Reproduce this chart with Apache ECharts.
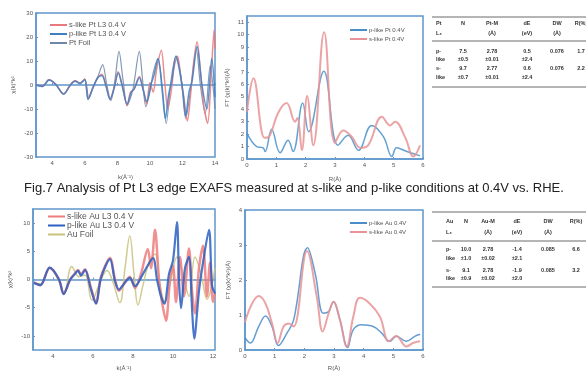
<!DOCTYPE html>
<html>
<head>
<meta charset="utf-8">
<script src="https://cdn.jsdelivr.net/npm/echarts@6/dist/echarts.min.js"></script>
<style>
  html, body { margin: 0; padding: 0; background: #fff; }
  #chart { width: 586px; height: 372px; }
</style>
</head>
<body>
<div id="chart"></div>
<script>
// Pt L3 chi(k)*k^2, pairs of [k, value]
var ptSlike = [[3.0,0],[3.4,-0.5],[3.8,2.2],[4.2,0.4],[4.7,-3.7],[5.1,0],[5.4,1.8],[5.7,0.8],[6.0,2.5],[6.2,-5.8],[6.5,-1],[6.8,3.2],[7.05,4.5],[7.3,0],[7.55,-5.8],[7.8,-1],[8.05,5.5],[8.3,0],[8.6,-8.6],[8.8,-3],[9.0,-2],[9.35,3.5],[9.6,-2],[9.8,-8],[10.0,1],[10.2,-3],[10.4,6],[10.7,14.5],[10.9,2],[11.1,-10],[11.3,-3],[11.5,8],[11.7,12],[11.9,3],[12.1,-6],[12.3,-15],[12.5,-4],[12.7,10],[12.9,18],[13.1,6],[13.3,-8],[13.55,-16],[13.75,2],[13.95,23],[14.0,15]];
var ptPlike = [[3.0,0],[3.4,-0.6],[3.8,2.1],[4.2,0.3],[4.7,-3.8],[5.1,-0.2],[5.4,1.6],[5.7,0.6],[6.0,2.2],[6.2,-6],[6.5,-1.2],[6.8,3],[7.05,4],[7.3,-0.5],[7.55,-6],[7.8,-1.5],[8.05,5],[8.3,-0.5],[8.6,-8],[8.85,-3],[9.05,-1.5],[9.35,3],[9.6,-2.5],[9.8,-7],[10.05,0],[10.25,4],[10.5,11],[10.75,-2],[10.95,-14],[11.15,-4],[11.35,2],[11.6,12],[11.85,5],[12.05,-4],[12.2,-13],[12.4,-3],[12.6,2],[12.9,16],[13.2,0],[13.5,-10],[13.8,11],[14.0,-5]];
var ptFoil = [[3.0,0],[3.4,-0.5],[3.8,2.2],[4.2,0.4],[4.7,-3.7],[5.1,0],[5.4,1.8],[5.7,0.8],[6.0,2.5],[6.25,-5.5],[6.5,-1],[6.8,3.5],[7.1,8.5],[7.35,0],[7.6,-6.5],[7.85,2],[8.1,14],[8.35,2],[8.6,-8.5],[8.95,-2],[9.35,14],[9.55,2],[9.75,-9],[10.0,-3],[10.2,5],[10.5,11],[10.75,0],[11.0,-16],[11.3,2],[11.6,12],[11.9,4],[12.2,-14],[12.5,-2],[12.85,15],[13.1,0],[13.4,-12],[13.7,8],[14.0,-10]];

// Pt FT magnitude, pairs of [R, value]
var ptFtP = [[0,2.06],[0.33,1.0],[0.55,0.9],[0.62,0.6],[0.84,2.4],[1.13,0.5],[1.4,1.5],[1.57,0.6],[1.9,4.5],[2.1,2.2],[2.62,7.05],[3.1,1.1],[3.45,1.9],[3.8,0.7],[4.25,2.7],[4.65,1.8],[4.94,0.2],[5.1,0.9],[5.45,0.6],[5.9,0.25]];
var ptFtS = [[0,3.8],[0.22,6.5],[0.6,1.7],[0.75,1.8],[1.06,3.7],[1.35,4.5],[1.64,3.0],[1.72,3.3],[1.87,0.7],[2.05,5.06],[2.26,1.1],[2.63,10.2],[3.0,1.3],[3.28,2.3],[3.57,1.8],[3.86,0.9],[4.13,1.1],[4.6,3.4],[4.88,2.7],[5.05,3.0],[5.4,1.7],[5.67,0.2],[5.9,1.1]];

// Au L3 chi(k)*k^2
var auSlike = [[3.04,-0.5],[3.37,-1],[3.83,2.1],[4.3,0],[4.53,-2.5],[4.86,0],[5.1,1.1],[5.25,1.7],[5.4,0.9],[5.6,1.8],[5.9,-1.5],[6.15,-4.2],[6.4,0.5],[6.85,3.8],[7.1,0],[7.3,-2],[7.5,-1],[7.84,0.5],[8.1,-1.5],[8.4,1],[8.74,5.4],[8.9,2],[9.1,8.8],[9.3,0],[9.45,-4],[9.65,-7.3],[9.85,0],[10.0,2.5],[10.15,-4],[10.35,4],[10.55,-3],[10.8,5.5],[10.95,-2],[11.1,-6],[11.3,2],[11.5,6],[11.7,-3],[11.85,3],[12.0,-4],[12.1,-2.5]];
var auPlike = [[3.04,-0.6],[3.37,-1],[3.83,2.1],[4.3,0],[4.53,-2.6],[4.86,0],[5.1,1],[5.25,1.6],[5.4,0.7],[5.6,1.7],[5.9,-1.8],[6.15,-4.3],[6.4,0.3],[6.85,3.6],[7.1,-0.3],[7.3,-1.8],[7.5,-1],[7.84,0.3],[8.1,-1.2],[8.5,1],[9.0,3.8],[9.2,0],[9.4,-3],[9.57,-4.3],[9.8,1],[10.0,3.4],[10.2,10.2],[10.3,0],[10.4,-5.1],[10.6,2],[10.8,4],[10.95,-5],[11.06,-10.5],[11.3,-2],[11.5,3],[11.8,8.8],[11.95,-1],[12.1,-2.5]];
var auFoil = [[3.04,-0.5],[3.37,-0.8],[3.83,2],[4.3,-0.3],[4.55,-2.6],[4.94,2.3],[5.3,0.5],[5.6,0.8],[5.95,-3.7],[6.3,-1],[6.7,1.6],[7.0,-0.5],[7.34,-4.1],[7.6,2],[7.84,7.7],[8.05,1],[8.25,-4.5],[8.5,-1],[8.8,3],[9.1,4.5],[9.35,-1],[9.6,-4],[9.9,0],[10.2,4],[10.5,1],[10.8,-3],[11.1,4],[11.4,1],[11.7,-3.5],[12.1,2]];

// Au FT magnitude
var auFtP = [[0,0.35],[0.18,0.2],[0.46,0.67],[0.69,0.97],[0.91,0.67],[1.13,0.13],[1.42,0.49],[1.64,0.86],[2.11,2.92],[2.37,2.17],[2.64,1.05],[2.82,1.1],[2.98,1.38],[3.2,0.86],[3.46,0.07],[3.65,0.58],[3.93,0.72],[4.32,0.67],[4.6,0.49],[4.88,0.25],[5.1,0.39],[5.44,0.25],[5.72,0.39],[5.9,0.45]];
var auFtS = [[0,0.8],[0.24,1.33],[0.46,1.54],[0.69,1.33],[0.91,0.76],[1.1,0.2],[1.3,0.67],[1.48,0.76],[1.64,0.67],[2.09,2.83],[2.42,1.52],[2.62,0.53],[2.82,1.05],[2.98,1.38],[3.2,0.86],[3.43,0.1],[3.65,0.95],[3.87,1.49],[4.2,1.33],[4.55,0.95],[4.85,0.25],[5.1,0.4],[5.44,0.1],[5.66,0.2],[5.9,0.25]];

// tables
var ptHead1 = ['Pt', 'N', 'Pt-M', 'dE', 'DW', 'R(%)'];
var ptHead2 = ['L₃', '', '(Å)', '(eV)', '(Å)', ''];
var ptRows = [
  ['p-', '7.5', '2.78', '0.5', '0.076', '1.7'],
  ['like', '±0.5', '±0.01', '±2.4', '', ''],
  ['s-', '9.7', '2.77', '0.6', '0.076', '2.2'],
  ['like', '±0.7', '±0.01', '±2.4', '', '']
];
var auHead1 = ['Au', 'N', 'Au-M', 'dE', 'DW', 'R(%)'];
var auHead2 = ['L₃', '', '(Å)', '(eV)', '(Å)', ''];
var auRows = [
  ['p-', '10.0', '2.78', '-1.4', '0.085', '6.6'],
  ['like', '±1.0', '±0.02', '±2.1', '', ''],
  ['s-', '9.1', '2.78', '-1.9', '0.085', '3.2'],
  ['like', '±0.9', '±0.02', '±2.0', '', '']
];
var caption = 'Fig.7 Analysis of Pt L3 edge EXAFS measured at s-like and p-like conditions at 0.4V vs. RHE.';

var frameColor = '#5f97cc';
var labelStyle = { fontSize: 6, color: '#555', margin: 3, fontFamily: 'Liberation Sans' };

function axis(grid, min, max, ticks, name, gap) {
  return {
    type: 'value', gridIndex: grid, min: min, max: max,
    name: name, nameLocation: 'middle', nameGap: gap,
    nameTextStyle: { fontSize: 6, color: '#555' },
    axisLine: { show: true, lineStyle: { color: frameColor, width: 1.5 } },
    axisTick: { show: true, inside: true, length: 2, customValues: ticks, lineStyle: { color: frameColor } },
    axisLabel: Object.assign({ customValues: ticks }, labelStyle),
    splitLine: { show: false }
  };
}
function line(name, data, idx, color, width, smooth) {
  return {
    name: name, type: 'line', xAxisIndex: idx, yAxisIndex: idx,
    data: data, showSymbol: false, smooth: smooth,
    lineStyle: { color: color, width: width, opacity: 0.85 },
    itemStyle: { color: color }
  };
}
function legend(names, left, top, size, gap) {
  return {
    data: names, left: left, top: top, orient: 'vertical',
    icon: 'rect', itemWidth: 17, itemHeight: 2, itemGap: gap,
    textStyle: { fontSize: size, color: '#555', padding: [0, 0, 0, -3] }, padding: 0
  };
}

// table drawn with graphic texts
function table(lines, rowY, head1, head2, rows, cols) {
  var els = [];
  var all = [head1, head2].concat(rows);
  all.forEach(function (r, i) {
    r.forEach(function (t, j) {
      if (!t) return;
      els.push({
        type: 'text', x: cols[j], y: rowY[i],
        style: { text: t, fill: '#333', font: 'bold 5.5px "Liberation Sans"', align: j === 0 ? 'left' : 'center', verticalAlign: 'middle' }
      });
    });
  });
  lines.forEach(function (y) {
    els.push({ type: 'line', shape: { x1: 432, y1: y, x2: 586, y2: y }, style: { stroke: '#444', lineWidth: 0.8 } });
  });
  return els;
}

var graphics = []
  .concat(table([17, 41, 87], [23, 33, 51, 59, 68, 77], ptHead1, ptHead2, ptRows, [436, 463, 492, 527, 557, 581]))
  .concat(table([212, 241, 287], [221, 232, 249, 258, 270, 278], auHead1, auHead2, auRows, [446, 466, 488, 517, 548, 576]));
graphics.push({
  type: 'text', x: 294, y: 188,
  style: { text: caption, fill: '#222', font: '13px "Liberation Sans"', align: 'center', verticalAlign: 'middle' }
});

var chart = echarts.init(document.getElementById('chart'));
chart.setOption({
  animation: false,
  backgroundColor: '#fff',
  grid: [
    { left: 36, top: 13, width: 179, height: 144, show: true, borderColor: frameColor, borderWidth: 1.5 },
    { left: 247, top: 16, width: 176, height: 143, show: true, borderColor: frameColor, borderWidth: 1.5 },
    { left: 33, top: 209, width: 182, height: 147, show: true, borderColor: frameColor, borderWidth: 1.5 },
    { left: 245, top: 210, width: 178, height: 144, show: true, borderColor: frameColor, borderWidth: 1.5 }
  ],
  xAxis: [
    axis(0, 3, 14, [4, 6, 8, 10, 12, 14], 'k(Å⁻¹)', 17),
    axis(1, 0, 6, [0, 1, 2, 3, 4, 5, 6], 'R(Å)', 17),
    axis(2, 3, 12.1, [4, 6, 8, 10, 12], 'k(Å⁻¹)', 15),
    axis(3, 0, 6, [0, 1, 2, 3, 4, 5, 6], 'R(Å)', 15)
  ],
  yAxis: [
    axis(0, -30, 30, [-30, -20, -10, 0, 10, 20, 30], 'χ(k)*k²', 20),
    axis(1, 0, 11.5, [0, 1, 2, 3, 4, 5, 6, 7, 8, 9, 10, 11], 'FT (χ(k)*k²)(Å)', 17),
    axis(2, -12.5, 12.5, [-10, -5, 0, 5, 10], 'χ(k)*k²', 20),
    axis(3, 0, 4, [0, 1, 2, 3, 4], 'FT (χ(k)*k²)(Å)', 14)
  ],
  legend: [
    legend(['s-like Pt L3 0.4 V', 'p-like Pt L3 0.4 V', 'Pt Foil'], 50, 21, 7.5, 1),
    legend(['p-like Pt 0.4V', 's-like Pt 0.4V'], 350, 27, 6, 3),
    legend(['s-like Au L3 0.4 V', 'p-like Au L3 0.4 V', 'Au Foil'], 48, 212, 8.5, 0),
    legend(['p-like Au 0.4V', 's-like Au 0.4V'], 350, 220, 6, 3)
  ],
  series: [
    line('Pt Foil', ptFoil, 0, '#6f87a6', 1.2, 0.3),
    line('s-like Pt L3 0.4 V', ptSlike, 0, '#e8797c', 1.5, 0.3),
    line('p-like Pt L3 0.4 V', ptPlike, 0, '#3c7fc4', 1.5, 0.3),
    line('p-like Pt 0.4V', ptFtP, 1, '#4a90c8', 1.5, 0.4),
    line('s-like Pt 0.4V', ptFtS, 1, '#e89496', 2, 0.4),
    line('Au Foil', auFoil, 2, '#c8c27c', 1.5, 0.4),
    line('s-like Au L3 0.4 V', auSlike, 2, '#ef7c7e', 2.5, 0.3),
    line('p-like Au L3 0.4 V', auPlike, 2, '#2c5fc2', 2.2, 0.3),
    line('p-like Au 0.4V', auFtP, 3, '#4a8cc8', 1.5, 0.4),
    line('s-like Au 0.4V', auFtS, 3, '#e89496', 2, 0.4)
  ],
  graphic: graphics
});
</script>
</body>
</html>
